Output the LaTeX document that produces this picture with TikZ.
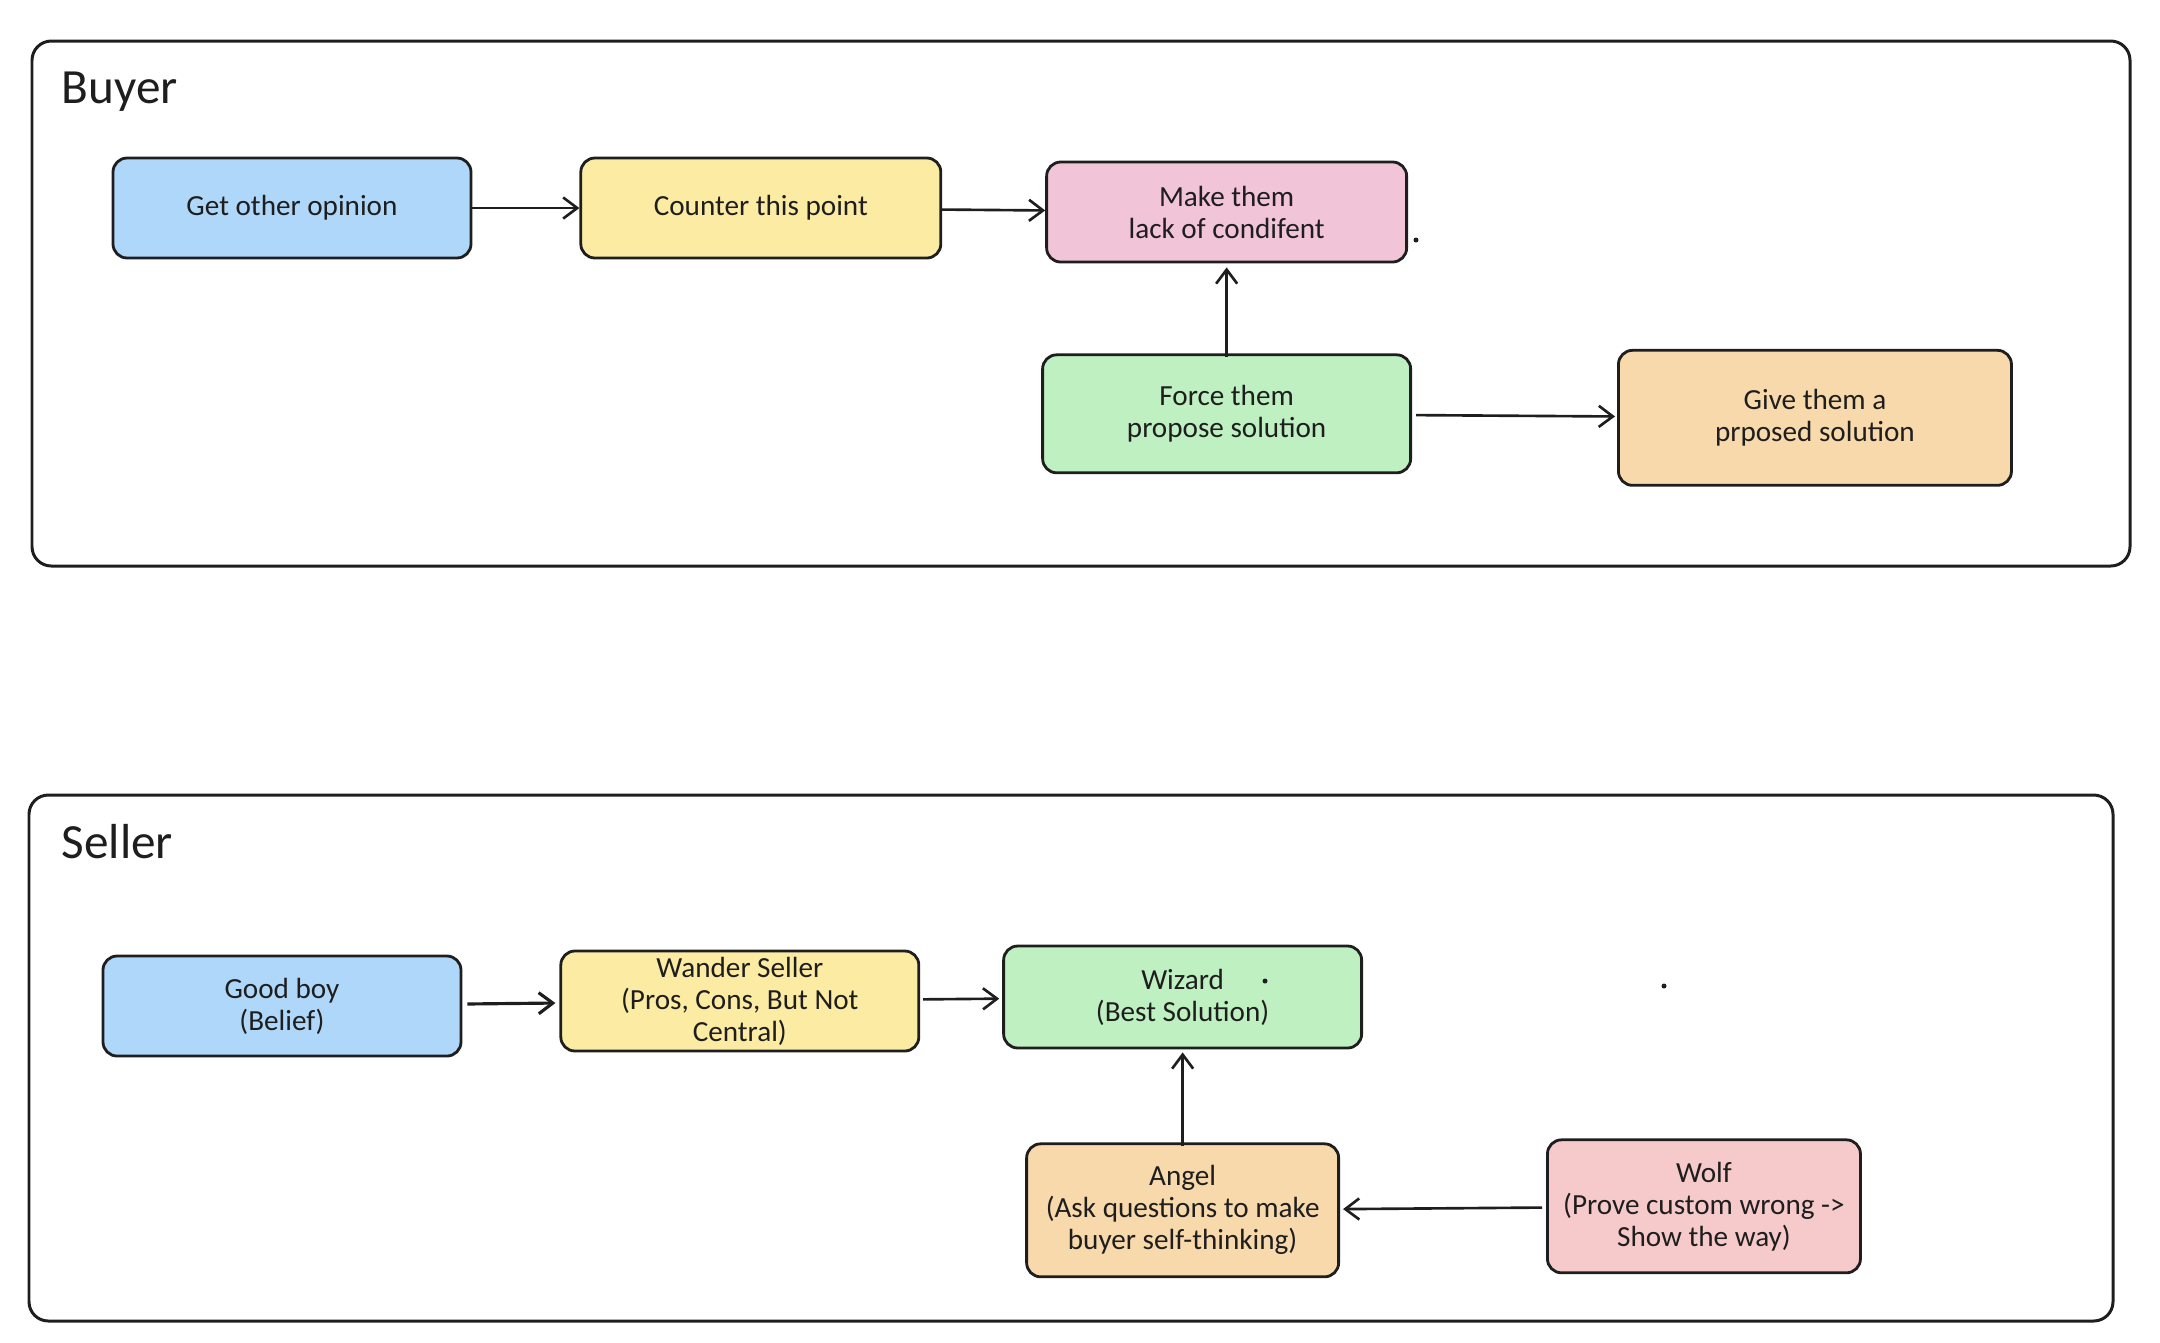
\documentclass[tikz,border=0pt]{standalone}
\usepackage{fontspec}
\setmainfont{Carlito}
\usetikzlibrary{arrows.meta,positioning}
\definecolor{ink}{HTML}{1E1E1E}
\definecolor{skyfill}{HTML}{AFD7FA}
\definecolor{sandfill}{HTML}{FCEBA3}
\definecolor{rosefill}{HTML}{F2C4D8}
\definecolor{mintfill}{HTML}{BFF0C2}
\definecolor{peachfill}{HTML}{F8D9AC}
\definecolor{blushfill}{HTML}{F6CACA}

\begin{document}
\begin{tikzpicture}[x=1mm,y=1mm,
  box/.style={draw=ink,line width=0.8pt,rounded corners=4pt,minimum width=35.8mm,
              minimum height=10mm,align=center,inner sep=1pt,
              font=\fontsize{8.3}{9.1}\selectfont,text=ink},
  frame/.style={draw=ink,line width=0.85pt,rounded corners=5.5pt},
  title/.style={anchor=west,inner sep=0pt,font=\fontsize{14}{16}\selectfont,text=ink},
  arr/.style={-{Straight Barb[length=4pt,width=6pt]},line width=0.75pt,color=ink},
  speck/.style={circle,fill=ink,inner sep=0pt,minimum size=0.5mm}]
\useasboundingbox (0,0) rectangle (216,-134.2);
% buyer
\draw[frame] (3.2,-4.1) rectangle (213,-56.6);
\node[title] (buyer) at (6.1,-9.2) {Buyer};
\node[box,fill=skyfill] (opinion) at (29.2,-20.8) {Get other opinion};
\node[box,fill=sandfill,right=10.7mm of opinion,minimum width=36mm] (counter) {Counter this point};
\node[box,fill=rosefill,right=10.3mm of counter,minimum width=36mm,yshift=-0.4mm] (lack) {Make them\\lack of condifent};
\node[box,fill=mintfill,below=9mm of lack,minimum width=36.8mm,minimum height=11.8mm] (force) {Force them\\propose solution};
\node[box,fill=peachfill,right=20.5mm of force,minimum width=39.3mm,minimum height=13.5mm,yshift=-0.4mm] (give) {Give them a\\prposed solution};
\node[speck] (dotA) at (141.6,-24.0) {};
\draw[arr] (opinion) -- (counter);
\draw[arr] (counter) -- (lack);
\draw[arr,shorten <=-0.4mm,shorten >=0.4mm] (force) -- (lack);
\draw[arr,shorten <=0.4mm,shorten >=0.2mm] (force) -- (give);
% seller
\draw[frame] (2.9,-79.5) rectangle (211.3,-132.1);
\node[title] (seller) at (6.1,-84.2) {Seller};
\node[box,fill=skyfill] (goodboy) at (28.2,-100.6) {Good boy\\(Belief)};
\node[box,fill=sandfill,right=9.7mm of goodboy,yshift=0.5mm] (wander) {Wander Seller\\(Pros, Cons, But Not\\Central)};
\node[box,fill=mintfill,right=8.2mm of wander,minimum height=10.2mm,yshift=0.4mm] (wizard) {Wizard\\(Best Solution)};
\node[box,fill=peachfill,below=9.3mm of wizard,minimum width=31.2mm,minimum height=13.3mm] (angel) {Angel\\(Ask questions to make\\buyer self-thinking)};
\node[box,fill=blushfill,right=20.6mm of angel,minimum width=31.3mm,minimum height=13.3mm,yshift=0.4mm] (wolf) {Wolf\\(Prove custom wrong ->\\Show the way)};
\node[speck] (dotB) at (126.5,-98.1) {};
\node[speck] (dotC) at (166.4,-98.6) {};
\draw[arr,line width=0.9pt,shorten <=0.5mm,shorten >=0.4mm] (goodboy) -- (wander);
\draw[arr,shorten <=0.3mm,shorten >=0.3mm] (wander) -- (wizard);
\draw[arr,shorten <=-0.4mm,shorten >=0.3mm] (angel) -- (wizard);
\draw[arr,shorten <=0.4mm,shorten >=0.3mm] (wolf) -- (angel);
\end{tikzpicture}
\end{document}
